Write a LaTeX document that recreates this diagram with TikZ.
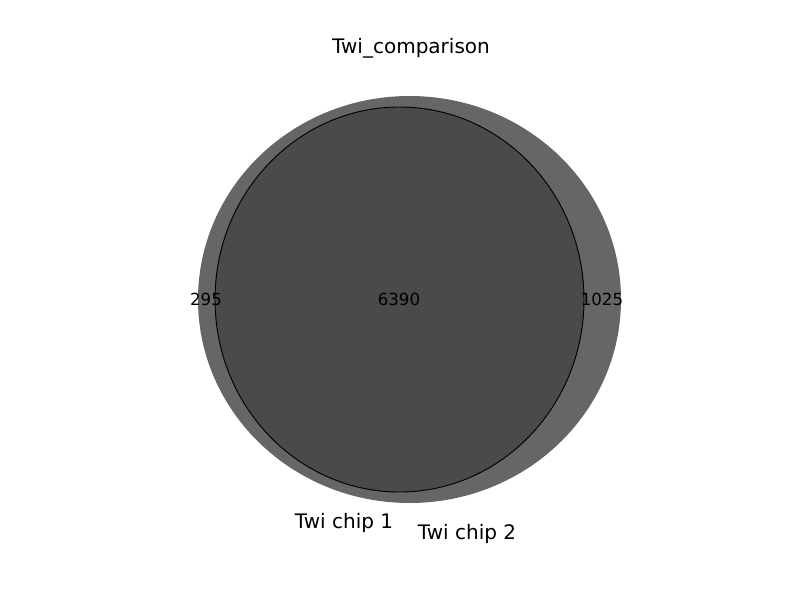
\documentclass[tikz,border=0pt]{standalone}
\usepackage{fontspec}
\setmainfont{DejaVu Sans}
\definecolor{outergray}{HTML}{666666}
\definecolor{innergray}{HTML}{4A4A4A}
\begin{document}
\begin{tikzpicture}[x=0.75pt,y=-0.75pt,
  big/.style={font=\fontsize{15}{18}\selectfont, text=black, inner sep=0pt},
  num/.style={font=\fontsize{12.5}{15}\selectfont, text=black, inner sep=0pt}]
\useasboundingbox (0,0) rectangle (800,600);
\fill[outergray] (409.5,299.5) ellipse [x radius=211.5, y radius=203.5];
\filldraw[fill=innergray, draw=black, line width=0.7pt] (399.5,299.5) ellipse [x radius=184.5, y radius=192.5];
\node[big] (title) at (411,48.5) {Twi\_comparison};
\node[num] (a) at (206,299) {295};
\node[num] (ab) at (399,299) {6390};
\node[num] (b) at (602,299) {1025};
\node[big] (la) at (344,522.5) {Twi chip 1};
\node[big] (lb) at (467,533.5) {Twi chip 2};
\end{tikzpicture}
\end{document}
